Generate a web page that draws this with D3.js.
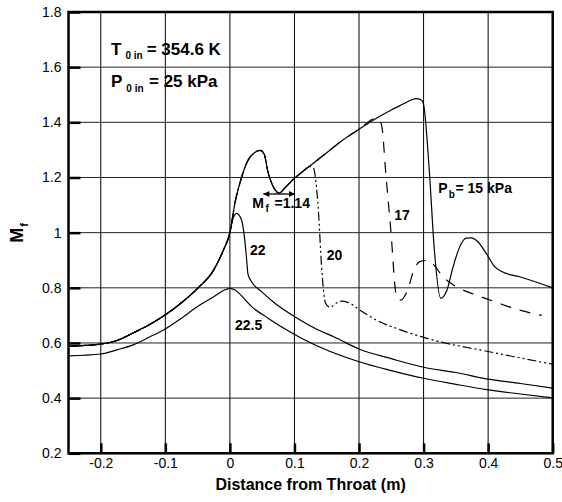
<!DOCTYPE html>
<html>
<head>
<meta charset="utf-8">
<script src="https://cdn.jsdelivr.net/npm/d3@7"></script>
<style>
body { margin: 0; background: #fff; }
svg text { font-family: "Liberation Sans", Arial, Helvetica, sans-serif; fill: #000; }
</style>
</head>
<body>
<div id="chart"></div>
<script>
// tick values
var xTicks = [-0.2, -0.1, 0, 0.1, 0.2, 0.3, 0.4, 0.5];
var yTicks = [0.2, 0.4, 0.6, 0.8, 1, 1.2, 1.4, 1.6, 1.8];

// [distance from throat (m), Mf]
// converging part, shared by Pb = 15, 17, 20 and 22 kPa
var upstream = [[-0.25, 0.588], [-0.225, 0.591], [-0.2, 0.596], [-0.175, 0.609], [-0.15, 0.636],
                [-0.125, 0.666], [-0.1, 0.702], [-0.075, 0.746], [-0.05, 0.798], [-0.025, 0.865],
                [-0.01, 0.937], [0, 1.0]];
// supersonic part up to the 1.14 dip, shared by Pb = 15, 17, 20
var nozzle = [[0.008, 1.11], [0.018, 1.2], [0.028, 1.262], [0.038, 1.29], [0.047, 1.298],
              [0.053, 1.285], [0.059, 1.22], [0.066, 1.172], [0.071, 1.152], [0.076, 1.143],
              [0.085, 1.162], [0.1, 1.197], [0.115, 1.226]];
// shared by Pb = 15 and 17
var nozzleLate = [[0.124, 1.242], [0.15, 1.29], [0.175, 1.336], [0.2, 1.375], [0.227, 1.415]];
var pb15 = [[0.25, 1.445], [0.27, 1.468], [0.281, 1.481], [0.29, 1.486], [0.297, 1.48],
            [0.300, 1.465], [0.309, 1.22], [0.3166, 0.94], [0.3266, 0.762], [0.336, 0.79],
            [0.345, 0.87], [0.355, 0.943], [0.366, 0.98], [0.374, 0.981], [0.384, 0.967],
            [0.397, 0.925], [0.41, 0.877], [0.421, 0.859], [0.449, 0.84], [0.5, 0.80]];
var pb17 = [[0.232, 1.405], [0.235, 1.39], [0.242, 1.2], [0.249, 1.016], [0.258, 0.77],
            [0.264, 0.755], [0.275, 0.79], [0.285, 0.865], [0.294, 0.895], [0.305, 0.9],
            [0.315, 0.885], [0.33, 0.84], [0.35, 0.805], [0.38, 0.775], [0.41, 0.75],
            [0.44, 0.725], [0.483, 0.70]];
var pb20 = [[0.122, 1.24], [0.129, 1.236], [0.137, 1.082], [0.142, 0.877], [0.1455, 0.78],
            [0.148, 0.745], [0.155, 0.729], [0.165, 0.745], [0.175, 0.752], [0.186, 0.744],
            [0.201, 0.72], [0.232, 0.677], [0.258, 0.653], [0.299, 0.621], [0.335, 0.599],
            [0.387, 0.575], [0.4386, 0.551], [0.5, 0.523]];
var pb22 = [[0.004, 1.045], [0.0103, 1.07], [0.018, 1.046], [0.023, 0.974], [0.026, 0.9],
            [0.028, 0.85], [0.0336, 0.822], [0.049, 0.786], [0.0697, 0.744], [0.1006, 0.695],
            [0.137, 0.647], [0.1625, 0.621], [0.2, 0.578], [0.25, 0.543], [0.3, 0.512],
            [0.35, 0.493], [0.4, 0.469], [0.45, 0.453], [0.5, 0.436]];
var pb225 = [[-0.25, 0.553], [-0.2, 0.56], [-0.175, 0.575], [-0.15, 0.593], [-0.125, 0.621],
             [-0.1, 0.651], [-0.075, 0.69], [-0.05, 0.732], [-0.025, 0.768], [-0.01, 0.79],
             [0, 0.798], [0.008, 0.792], [0.0155, 0.777], [0.0336, 0.732], [0.059, 0.69],
             [0.0955, 0.637], [0.116, 0.611], [0.2, 0.532], [0.25, 0.50], [0.3, 0.472],
             [0.35, 0.45], [0.4, 0.430], [0.45, 0.415], [0.5, 0.401]];

function init() {
    var w = 562;
    var h = 502;
    var left = 68.5, right = 552.7, top = 12, bottom = 453.3;

    var x = d3.scaleLinear().domain([-0.25, 0.5]).range([left, right]);
    var y = d3.scaleLinear().domain([0.2, 1.8]).range([bottom, top]);

    var svg = d3.select("#chart")
                .append("svg")
                .attr("width", w)
                .attr("height", h);

    var fmt = function(d) { return String(+d.toFixed(1)); };

    // grid
    svg.append("g")
        .selectAll("line")
        .data(xTicks)
        .enter()
        .append("line")
        .attr("x1", function(d) { return x(d); })
        .attr("x2", function(d) { return x(d); })
        .attr("y1", top)
        .attr("y2", bottom)
        .attr("stroke", "#000")
        .attr("stroke-width", 1);

    svg.append("g")
        .selectAll("line")
        .data(yTicks)
        .enter()
        .append("line")
        .attr("x1", left)
        .attr("x2", right)
        .attr("y1", function(d) { return y(d); })
        .attr("y2", function(d) { return y(d); })
        .attr("stroke", "#222")
        .attr("stroke-width", 1);

    // axes, ticks pointing inwards
    var xAxis = svg.append("g")
        .attr("transform", "translate(0," + bottom + ")")
        .call(d3.axisBottom(x).tickValues(xTicks).tickFormat(fmt).tickSize(-10).tickPadding(5));
    var yAxis = svg.append("g")
        .attr("transform", "translate(" + left + ",0)")
        .call(d3.axisLeft(y).tickValues(yTicks).tickFormat(fmt).tickSize(-12).tickPadding(7));

    [xAxis, yAxis].forEach(function(a) {
        a.select(".domain").remove();
        a.selectAll(".tick line").attr("stroke", "#000").attr("stroke-width", 2.5);
        a.selectAll(".tick text")
            .style("font-family", "'Liberation Sans', Arial, sans-serif")
            .style("font-size", "14px")
            .attr("fill", "#000");
    });

    // curves
    svg.append("clipPath").attr("id", "clip")
        .append("rect").attr("x", left).attr("y", top)
        .attr("width", right - left).attr("height", bottom - top);

    var line = d3.line()
                 .x(function(d) { return x(d[0]); })
                 .y(function(d) { return y(d[1]); })
                 .curve(d3.curveMonotoneX);

    var curves = [
        { pts: pb225, dash: null },
        { pts: upstream.concat(pb22), dash: null },
        { pts: upstream.concat(nozzle, pb20), dash: "9,3,2,3,2,3" },
        { pts: upstream.concat(nozzle, nozzleLate, pb17), dash: "11,9" },
        { pts: upstream.concat(nozzle, nozzleLate, pb15), dash: null }
    ];

    svg.append("g")
        .attr("clip-path", "url(#clip)")
        .selectAll("path")
        .data(curves)
        .enter()
        .append("path")
        .attr("d", function(d) { return line(d.pts); })
        .attr("fill", "none")
        .attr("stroke", "#000")
        .attr("stroke-width", 1.2)
        .attr("stroke-dasharray", function(d) { return d.dash; });

    // frame
    svg.append("rect")
        .attr("x", left).attr("y", top)
        .attr("width", right - left).attr("height", bottom - top)
        .attr("fill", "none")
        .attr("stroke", "#000")
        .attr("stroke-width", 2.5);

    // axis titles
    svg.append("text")
        .attr("x", (left + right) / 2)
        .attr("y", 490)
        .attr("text-anchor", "middle")
        .style("font-size", "16px")
        .style("font-weight", "bold")
        .text("Distance from Throat (m)");

    var yl = svg.append("text")
        .attr("transform", "translate(23,233) rotate(-90)")
        .attr("text-anchor", "middle")
        .style("font-weight", "bold");
    yl.append("tspan").style("font-size", "18px").text("M");
    yl.append("tspan").style("font-size", "11px").attr("dx", 1).attr("dy", 5).text("f");

    // inlet conditions
    function subLabel(x0, y0, main, sub, rest, size, subSize, restX, shift, gap) {
        var t = svg.append("text").attr("x", x0).attr("y", y0).style("font-weight", "bold");
        t.append("tspan").style("font-size", size + "px").text(main);
        t.append("tspan").style("font-size", subSize + "px").attr("dx", gap).attr("dy", shift).text(sub);
        t.append("tspan").style("font-size", size + "px").attr("x", restX).attr("dy", -shift).text(rest);
    }
    subLabel(111, 54.5, "T", "0 in", "= 354.6 K", 17, 10, 146.7, 4, 4);
    subLabel(111, 87, "P", "0 in", "= 25 kPa", 17, 10, 149, 5, 4);
    subLabel(438.3, 193.3, "P", "b", "= 15 kPa", 14, 10, 455.5, 5, 1);
    subLabel(252.3, 208.3, "M", "f", "=1.14", 14, 10, 274.5, 4, 1.5);

    // curve labels
    var labels = [
        { t: "22", x: 250, y: 255 },
        { t: "20", x: 326.7, y: 260 },
        { t: "17", x: 394.3, y: 220 },
        { t: "22.5", x: 235, y: 330 }
    ];
    svg.selectAll(".lbl")
        .data(labels)
        .enter()
        .append("text")
        .attr("class", "lbl")
        .attr("x", function(d) { return d.x; })
        .attr("y", function(d) { return d.y; })
        .style("font-size", "14px")
        .style("font-weight", "bold")
        .text(function(d) { return d.t; });

    // double arrow under the 1.14 dip
    var defs = svg.append("defs");
    defs.append("marker")
        .attr("id", "head")
        .attr("viewBox", "0 0 10 10")
        .attr("refX", 10).attr("refY", 5)
        .attr("markerWidth", 8).attr("markerHeight", 6)
        .attr("markerUnits", "userSpaceOnUse")
        .attr("orient", "auto-start-reverse")
        .append("path")
        .attr("d", "M0,0 L10,5 L0,10 Z")
        .attr("fill", "#000");
    svg.append("line")
        .attr("x1", 263.3).attr("x2", 295)
        .attr("y1", 194).attr("y2", 194)
        .attr("stroke", "#000")
        .attr("stroke-width", 1.3)
        .attr("marker-start", "url(#head)")
        .attr("marker-end", "url(#head)");
}
window.onload = init;
</script>
</body>
</html>
